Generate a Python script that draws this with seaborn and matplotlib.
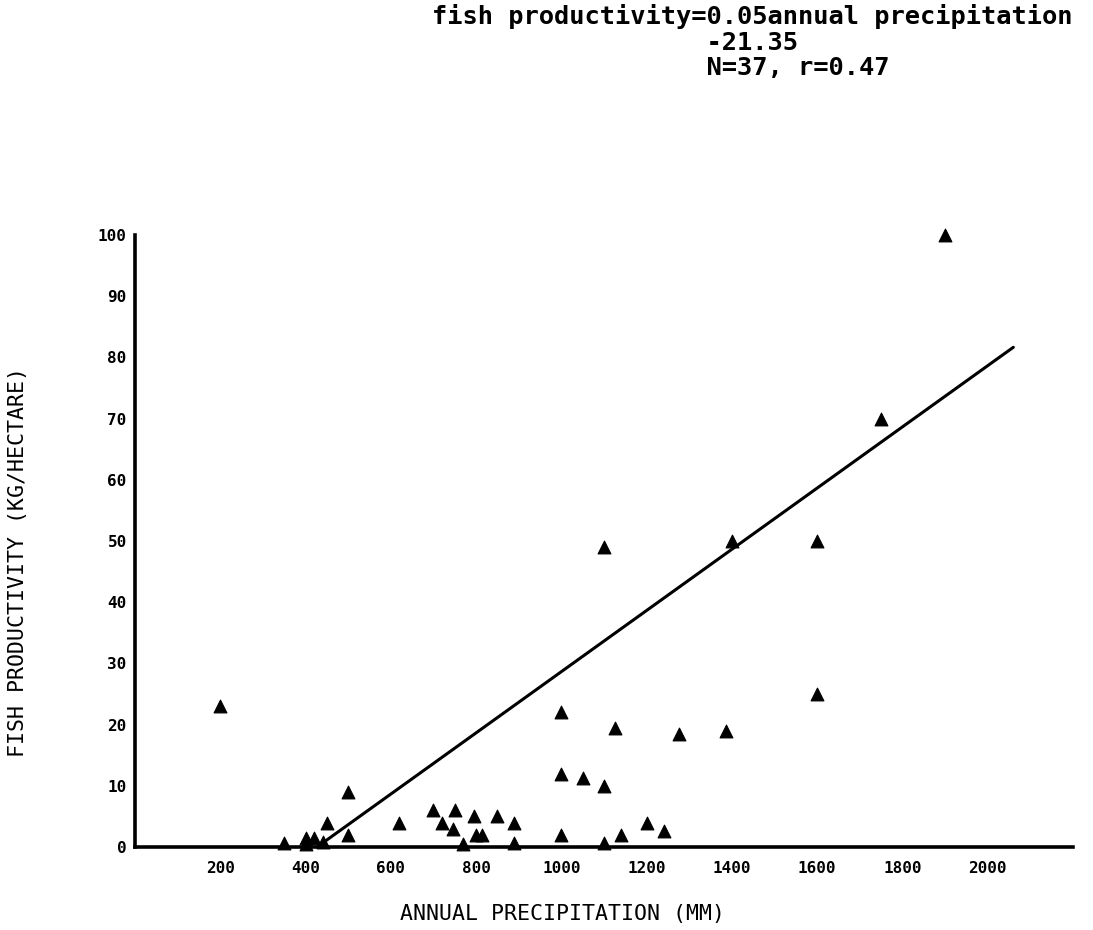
import numpy as np
import pandas as pd
import matplotlib
matplotlib.use("Agg")
import matplotlib.pyplot as plt
import seaborn as sns

# Annual precipitation (mm) and fish productivity (kg/hectare) per water body
precip = [200, 350, 400, 400, 420, 440, 450, 500, 500, 620,
          700, 720, 745, 750, 770, 795, 800, 815, 850, 890,
          890, 1000, 1000, 1000, 1050, 1100, 1100, 1100, 1125, 1140,
          1200, 1240, 1275, 1385, 1400, 1600, 1600, 1750, 1900]
fish = [23, 0.6, 1.5, 0.5, 1.5, 0.8, 4, 9, 2, 4,
        6, 4, 3, 6, 0.5, 5, 2, 2, 5, 4,
        0.7, 12, 22, 2, 11.3, 10, 0.7, 49, 19.5, 2,
        4, 2.6, 18.5, 19, 50, 50, 25, 70, 100]

# Least-squares line reported in the heading
slope = 0.05
intercept = -21.35
line_x = np.array([430, 2060])
line_y = slope * line_x + intercept

x_ticks = list(range(200, 2001, 200))
y_ticks = list(range(0, 101, 10))

sns.set_style("white")
plt.rcParams["font.family"] = ["DejaVu Sans Mono", "DejaVu Sans"]

df = pd.DataFrame({"precip": precip, "fish": fish})
fit = pd.DataFrame({"precip": line_x, "fish": line_y})

fig = plt.figure(figsize=(10.93, 9.30), dpi=100)
ax = fig.add_axes([135 / 1093, 1 - 847 / 930, (1073 - 135) / 1093, (847 - 235) / 930])

sns.lineplot(data=fit, x="precip", y="fish", color="black", linewidth=2.2, ax=ax)
sns.scatterplot(data=df, x="precip", y="fish", marker="^", s=85, color="black",
                edgecolor="black", linewidth=0.8, ax=ax, zorder=3, clip_on=False)

ax.set_xlim(0, 2200)
ax.set_ylim(0, 100)

for side in ("top", "right"):
    ax.spines[side].set_visible(False)
for side in ("left", "bottom"):
    ax.spines[side].set_linewidth(2.6)
    ax.spines[side].set_color("black")

ax.set_xticks(x_ticks)
ax.set_xticklabels([str(v) for v in x_ticks])
ax.set_xticks(np.arange(0, 2201, 40), minor=True)
ax.set_yticks(y_ticks)
ax.set_yticklabels([str(v) for v in y_ticks])
ax.set_yticks(np.arange(0, 101, 2), minor=True)

ax.tick_params(axis="both", which="major", direction="in", length=5, width=1.6,
               color="black", labelsize=11.5, labelcolor="black")
ax.tick_params(axis="both", which="minor", direction="in", length=3, width=1.4,
               color="black")
ax.tick_params(axis="x", which="major", pad=10)
ax.tick_params(axis="y", which="major", pad=6)
for lab in ax.get_xticklabels() + ax.get_yticklabels():
    lab.set_fontweight("bold")

ax.set_xlabel("")
ax.set_ylabel("")

fig.text(563 / 1093, 1 - 914 / 930, "ANNUAL PRECIPITATION (MM)",
         ha="center", va="center", fontsize=15.5, color="black")
fig.text(18 / 1093, 1 - 562 / 930, "FISH PRODUCTIVITY (KG/HECTARE)",
         ha="center", va="center", rotation=90, fontsize=15.5, color="black")

heading = ("fish productivity=0.05annual precipitation\n"
           + " " * 18 + "-21.35\n"
           + " " * 18 + "N=37, r=0.47")
fig.text(432 / 1093, 1 - 4 / 930, heading, ha="left", va="top",
         fontsize=18.3, fontweight="bold", linespacing=1.08, color="black")

fig.savefig("out.png", dpi=100, facecolor="white")
